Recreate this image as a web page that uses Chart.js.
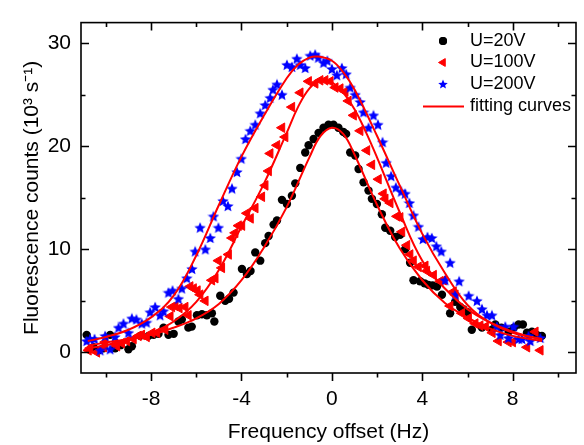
<!DOCTYPE html>
<html>
<head>
<meta charset="utf-8">
<script src="https://cdn.jsdelivr.net/npm/chart.js@4"></script>
<style>
html, body { margin: 0; padding: 0; background: #fff; }
</style>
</head>
<body>
<canvas id="chart" width="584" height="445"></canvas>
<script>
// Data
var u20X = [-10.85,-10.55,-10.33,-10.1,-9.81,-9.59,-9.35,-9.0,-8.85,-8.48,-8.11,-7.89,-7.67,-7.45,-7.23,-7.0,-6.79,-6.64,-6.35,-6.2,-5.97,-5.75,-5.53,-5.31,-5.2,-4.94,-4.72,-4.55,-4.35,-3.98,-3.76,-3.6,-3.39,-3.17,-2.95,-2.8,-2.58,-2.43,-2.21,-1.99,-1.77,-1.62,-1.4,-1.18,-1.03,-0.81,-0.59,-0.37,-0.15,0.07,0.29,0.5,0.63,0.81,1.03,1.18,1.4,1.62,1.77,1.99,2.21,2.36,2.58,2.8,3.02,3.24,3.46,3.61,3.9,4.1,4.27,4.45,4.65,4.87,5.23,5.45,5.68,5.82,6.0,6.19,6.64,7.08,7.23,7.5,7.82,8.05,8.26,8.45,8.63,8.85,9.07,9.29];
var u20Y = [1.7,0.5,0.2,0.4,1.7,0.4,0.7,0.3,0.6,1.6,1.6,1.7,1.8,2.4,1.7,1.8,3.0,3.2,2.4,2.5,3.6,3.7,3.6,3.8,3.0,5.5,5.0,5.2,5.8,8.1,7.6,7.9,9.7,8.9,10.6,11.3,12.4,12.8,14.8,14.4,15.2,16.4,17.9,19.4,20.1,20.7,21.3,21.8,22.1,22.1,21.8,21.4,21.2,19.4,19.1,17.8,16.5,15.7,14.9,14.4,13.4,12.1,11.8,11.2,11.4,10.0,8.7,7.0,6.9,6.7,6.55,6.5,6.4,5.6,3.8,4.9,4.4,4.2,3.9,2.2,2.4,2.2,2.7,2.4,2.0,2.4,2.7,2.7,1.9,2.0,1.7,1.6];

var u100X = [-10.77,-10.7,-10.4,-10.1,-10.03,-9.59,-9.51,-9.3,-9.07,-8.78,-8.56,-8.41,-8.2,-7.95,-7.74,-7.38,-7.15,-7.08,-6.93,-6.75,-6.49,-6.35,-6.27,-6.12,-5.95,-5.83,-5.6,-5.31,-5.16,-5.02,-4.87,-4.57,-4.42,-4.28,-4.13,-3.98,-3.76,-3.6,-3.39,-3.1,-2.95,-2.8,-2.73,-2.43,-2.21,-2.07,-1.77,-1.4,-1.03,-0.74,-0.52,-0.3,-0.07,0.15,0.37,0.59,0.73,0.96,1.25,1.55,1.77,2.06,2.28,2.36,2.58,2.88,3.02,3.1,3.32,3.46,3.61,3.83,4.13,4.2,4.5,4.79,4.94,5.23,5.38,5.46,5.75,6.05,6.34,6.56,6.8,7.1,7.37,7.81,8.0,8.63,9.0,9.22];
var u100Y = [0.2,0.4,0.0,0.5,1.0,0.8,0.6,0.9,1.1,1.3,1.6,1.7,1.5,1.9,1.9,2.2,3.5,4.4,4.5,4.3,4.4,3.6,6.4,6.2,6.0,5.6,5.0,7.0,7.2,8.9,8.2,9.5,11.1,11.6,12.3,12.3,13.5,13.0,14.0,15.1,16.2,17.6,19.3,20.1,21.8,20.9,23.8,25.2,26.3,26.1,26.4,26.4,26.3,25.7,25.6,25.3,24.4,23.0,21.5,19.6,18.2,16.8,15.4,14.9,14.5,13.2,13.1,11.7,10.4,9.5,8.9,8.3,8.4,7.9,7.5,6.9,7.0,4.5,5.9,5.6,3.8,3.3,2.8,2.6,2.5,1.9,1.1,1.0,1.0,0.5,2.0,0.2];

var u200X = [-10.85,-10.7,-10.5,-10.25,-10.03,-9.81,-9.6,-9.44,-9.22,-9.0,-8.85,-8.65,-8.41,-8.2,-8.04,-7.82,-7.6,-7.45,-7.23,-7.05,-6.79,-6.64,-6.42,-6.19,-6.05,-5.83,-5.6,-5.38,-5.24,-5.02,-4.82,-4.6,-4.42,-4.2,-4.01,-3.82,-3.61,-3.39,-3.17,-2.95,-2.73,-2.61,-2.43,-2.21,-1.99,-1.77,-1.55,-1.4,-1.18,-0.96,-0.74,-0.6,-0.37,-0.2,0,0.22,0.44,0.63,0.81,1.03,1.25,1.4,1.62,1.84,2.04,2.24,2.4,2.62,2.83,3.07,3.24,3.43,3.61,3.83,4.03,4.23,4.42,4.62,4.84,5.01,5.23,5.46,5.63,6.05,6.42,6.64,6.86,7.08,7.3,7.45,7.67,7.81,8.04,8.26,8.41,8.7,8.78,9.22];
var u200Y = [1.1,1.3,1.3,0.2,1.6,0.3,1.5,2.4,2.8,1.9,3.3,3.2,2.8,2.9,3.9,4.4,3.6,4.0,5.8,6.0,5.2,6.2,7.2,8.1,9.8,12.1,10.0,11.1,13.2,12.1,14.7,14.2,15.9,17.5,18.8,20.7,21.5,22.1,23.2,24.0,24.7,25.5,26.0,25.0,27.9,27.7,28.5,27.9,27.6,28.8,28.9,28.6,28.1,28.3,27.5,26.9,27.6,27.0,25.7,25.0,24.3,23.3,21.8,23.0,22.1,20.4,18.4,17.1,16.0,15.6,15.4,14.5,13.3,12.2,11.0,11.2,11.1,10.3,9.8,7.0,8.7,5.6,6.9,5.5,5.0,4.2,3.6,3.6,2.5,1.7,2.5,1.4,2.5,1.3,1.3,1.6,1.1,1.4];

// fitting curves
var fit20X = [-10.8,-10,-9,-8,-7,-6,-5,-4,-3,-2,-1,-0.5,0,0.5,1,2,3,4,5,6,7,8,9.3];
var fit20Y = [0.65,0.95,1.3,1.7,2.4,3.3,4.7,7.0,10.2,14.1,18.9,21.0,21.8,21.2,19.2,14.3,10.1,7.0,4.8,3.4,2.3,1.6,1.1];
var fit100X = [-10.8,-10,-9,-8,-7,-6,-5,-4,-3,-2,-1.5,-1,-0.5,0,0.5,1,1.5,2,3,4,5,6,7,8,9.3];
var fit100Y = [0.4,0.7,1.2,1.9,3.0,4.9,8.0,12.2,16.4,21.3,23.8,25.6,26.4,26.2,25.2,23.6,21.4,18.9,13.6,8.9,6.2,4.2,2.9,2.0,1.2];
var fit200X = [-10.8,-10,-9,-8,-7,-6,-5,-4,-3,-2,-1.5,-1,-0.6,0,0.5,1,2,3,4,5,6,7,8,9.3];
var fit200Y = [1.1,1.5,2.2,3.4,5.5,9.4,14.3,19.0,23.0,26.6,27.9,28.6,28.7,28.3,27.2,25.5,21.0,16.2,11.5,7.7,4.6,2.9,1.9,1.3];

var xTicks = [-8, -4, 0, 4, 8];
var xMinorTicks = [-10, -6, -2, 2, 6, 10];
var yTicks = [0, 10, 20, 30];
var yMinorTicks = [5, 15, 25];

var seriesNames = ['U=20V', 'U=100V', 'U=200V', 'fitting curves'];

var FONT = "'Liberation Sans', Arial, sans-serif";
Chart.defaults.font.family = FONT;
Chart.defaults.color = '#000';

function toPoints(xs, ys) {
    return xs.map(function(x, i) { return { x: x, y: ys[i] }; });
}

// filled five point star, used as point style
function makeStar(size, color) {
    var c = document.createElement('canvas');
    c.width = size; c.height = size;
    var g = c.getContext('2d');
    var cx = size / 2, cy = size / 2 + 0.5, R = size / 2, r = R * 0.45;
    g.beginPath();
    for (var i = 0; i < 10; i++) {
        var a = -Math.PI / 2 + i * Math.PI / 5;
        var rad = i % 2 ? r : R;
        g.lineTo(cx + rad * Math.cos(a), cy + rad * Math.sin(a));
    }
    g.closePath();
    g.fillStyle = color;
    g.fill();
    return c;
}
var starImg = makeStar(12, '#0000ff');
var starLegend = makeStar(10, '#0000ff');

function fitDataset(xs, ys) {
    return {
        type: 'line',
        data: toPoints(xs, ys),
        borderColor: '#ff0000',
        borderWidth: 2,
        pointRadius: 0,
        fill: false,
        tension: 0.4,
        order: 0
    };
}

// frame with inward ticks (outward on the bottom axis)
var frameTicks = {
    id: 'frameTicks',
    afterDatasetsDraw: function(chart) {
        var ctx = chart.ctx, a = chart.chartArea;
        var xs = chart.scales.x, ys = chart.scales.y;
        ctx.save();
        ctx.strokeStyle = '#000';
        ctx.lineWidth = 1.6;
        ctx.strokeRect(a.left, a.top, a.right - a.left, a.bottom - a.top);
        ctx.beginPath();
        function xt(list, len) {
            list.forEach(function(v) {
                var p = Math.round(xs.getPixelForValue(v)) + 0.5;
                ctx.moveTo(p, a.bottom); ctx.lineTo(p, a.bottom + len);
                ctx.moveTo(p, a.top); ctx.lineTo(p, a.top + len);
            });
        }
        function yt(list, len) {
            list.forEach(function(v) {
                var p = Math.round(ys.getPixelForValue(v)) + 0.5;
                ctx.moveTo(a.left, p); ctx.lineTo(a.left + len, p);
                ctx.moveTo(a.right, p); ctx.lineTo(a.right - len, p);
            });
        }
        xt(xTicks, 8); xt(xMinorTicks, 4.5);
        yt(yTicks, 8); yt(yMinorTicks, 4.5);
        ctx.stroke();
        ctx.restore();
    }
};

// legend in the upper right corner of the plot
var innerLegend = {
    id: 'innerLegend',
    afterDraw: function(chart) {
        var ctx = chart.ctx;
        var mx = 443, tx = 470, rows = [41, 62.5, 84, 106.5];
        ctx.save();
        ctx.font = '18px ' + FONT;
        ctx.fillStyle = '#000';
        ctx.textBaseline = 'middle';
        ctx.textAlign = 'left';
        seriesNames.forEach(function(name, i) { ctx.fillText(name, tx, rows[i]); });

        Chart.helpers.drawPoint(ctx, { pointStyle: 'circle', radius: 4, rotation: 0, borderWidth: 0 }, mx, rows[0]);
        ctx.fillStyle = '#000'; ctx.fill();

        ctx.fillStyle = '#ff0000'; ctx.strokeStyle = '#ff0000'; ctx.lineWidth = 1;
        Chart.helpers.drawPoint(ctx, { pointStyle: 'triangle', radius: 4.5, rotation: -90, borderWidth: 1 }, mx, rows[1]);

        ctx.drawImage(starLegend, mx - 5, rows[2] - 5);

        ctx.strokeStyle = '#ff0000'; ctx.lineWidth = 2;
        ctx.beginPath(); ctx.moveTo(423, rows[3]); ctx.lineTo(464, rows[3]); ctx.stroke();
        ctx.restore();
    }
};

new Chart(document.getElementById('chart').getContext('2d'), {
    type: 'scatter',
    data: {
        datasets: [
            fitDataset(fit20X, fit20Y),
            fitDataset(fit100X, fit100Y),
            fitDataset(fit200X, fit200Y),
            {
                label: seriesNames[0],
                data: toPoints(u20X, u20Y),
                pointStyle: 'circle',
                pointRadius: 4.2,
                backgroundColor: '#000',
                borderColor: '#000',
                borderWidth: 0,
                order: 3
            },
            {
                label: seriesNames[1],
                data: toPoints(u100X, u100Y),
                pointStyle: 'triangle',
                rotation: -90,
                pointRadius: 5.5,
                backgroundColor: '#ff0000',
                borderColor: '#ff0000',
                borderWidth: 1,
                order: 2
            },
            {
                label: seriesNames[2],
                data: toPoints(u200X, u200Y),
                pointStyle: starImg,
                pointRadius: 6,
                order: 1
            }
        ]
    },
    options: {
        responsive: false,
        animation: false,
        devicePixelRatio: 1,
        layout: { padding: { top: 9, right: 8, left: 0, bottom: 0 } },
        plugins: {
            legend: { display: false },
            tooltip: { enabled: false }
        },
        scales: {
            x: {
                type: 'linear',
                min: -11.1,
                max: 10.8,
                afterBuildTicks: function(s) { s.ticks = xTicks.map(function(v) { return { value: v }; }); },
                afterFit: function(s) { s.height = 72; },
                grid: { display: false, drawTicks: false },
                border: { display: false },
                ticks: { color: '#000', font: { size: 21 }, padding: 14, maxRotation: 0 },
                title: {
                    display: true,
                    text: 'Frequency offset (Hz)',
                    color: '#000',
                    font: { size: 21 },
                    padding: { top: 0, bottom: 0 }
                }
            },
            y: {
                type: 'linear',
                min: -2,
                max: 32,
                afterBuildTicks: function(s) { s.ticks = yTicks.map(function(v) { return { value: v }; }); },
                afterFit: function(s) { s.width = 81; },
                grid: { display: false, drawTicks: false },
                border: { display: false },
                ticks: { color: '#000', font: { size: 21 }, padding: 10 },
                title: {
                    display: true,
                    text: 'Fluorescence counts (10\u00b3 s\u207b\u00b9)',
                    color: '#000',
                    font: { size: 21 },
                    padding: { top: 20, bottom: 0 }
                }
            }
        }
    },
    plugins: [frameTicks, innerLegend]
});
</script>
</body>
</html>
